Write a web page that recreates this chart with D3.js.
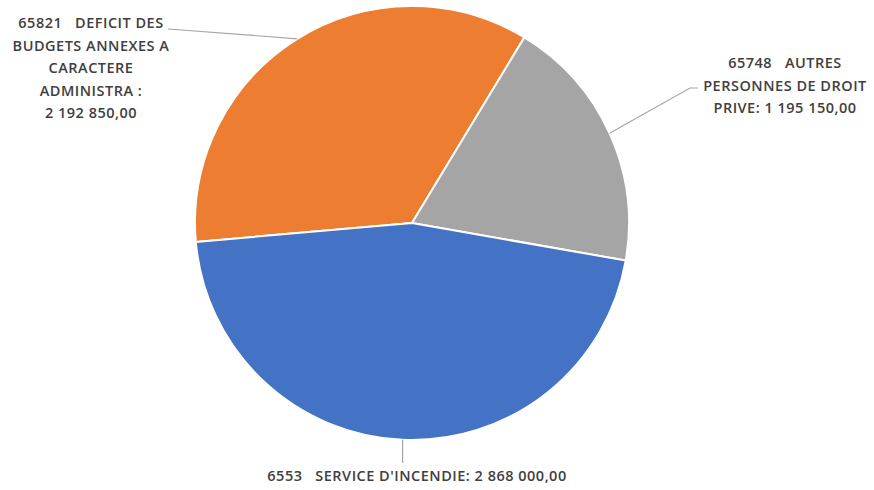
<!DOCTYPE html>
<html>
<head>
<meta charset="utf-8">
<script src="https://cdn.jsdelivr.net/npm/d3@7"></script>
<style>
  html, body { margin: 0; padding: 0; background: #fff; }
  svg { display: block; }
  .lbl { font-family: "Open Sans", Lato, sans-serif; font-weight: 600; fill: #404040; letter-spacing: 0.5px; }
</style>
</head>
<body>
<svg id="chart" width="874" height="490"></svg>
<script>
// Budget lines (compte + libellé) and their amounts
const codes = ["65821", "65748", "6553"];
const labelLines = [
  ["65821   DEFICIT DES", "BUDGETS ANNEXES A", "CARACTERE", "ADMINISTRA :", "2 192 850,00"],
  ["65748   AUTRES", "PERSONNES DE DROIT", "PRIVE: 1 195 150,00"],
  ["6553   SERVICE D'INCENDIE: 2 868 000,00"]
];
const amounts = [2192850, 1195150, 2868000];
const colors = ["#ED7D31", "#A5A5A5", "#4472C4"];

const svg = d3.select("#chart");
const cx = 412, cy = 223, r = 217;
const g = svg.append("g").attr("transform", `translate(${cx},${cy})`);

const data = codes.map((c, i) => ({ code: c, value: amounts[i], lines: labelLines[i], color: colors[i] }));

const pie = d3.pie().sort(null).value(d => d.value)
  .startAngle(-95 * Math.PI / 180)
  .endAngle(265 * Math.PI / 180);
const arcs = pie(data);
const arc = d3.arc().innerRadius(0).outerRadius(r);

g.selectAll("path.slice").data(arcs).join("path")
  .attr("class", "slice")
  .attr("d", arc)
  .attr("fill", d => d.data.color)
  .attr("stroke", "#fff")
  .attr("stroke-width", 2)
  .attr("stroke-linejoin", "round");

// Label placement (absolute anchor per slice) and leader line elbows
const labelPos = [
  { x: 91, y: 23, elbow: [[168, 29]] },
  { x: 785, y: 63, elbow: [[690, 88], [698, 88]] },
  { x: 417, y: 476, elbow: [[null, 463]] }
];
const lineH = 22.6;

arcs.forEach((a, i) => {
  const mid = (a.startAngle + a.endAngle) / 2;
  const px = cx + r * Math.sin(mid), py = cy - r * Math.cos(mid);
  const pts = [[px, py]].concat(labelPos[i].elbow.map(p => [p[0] === null ? px : p[0], p[1]]));
  svg.append("path")
    .attr("d", d3.line()(pts))
    .attr("fill", "none")
    .attr("stroke", "#A6A6A6")
    .attr("stroke-width", 1.2);

  const t = svg.append("text").attr("class", "lbl")
    .attr("text-anchor", "middle")
    .attr("font-size", 14.5);
  a.data.lines.forEach((ln, j) => {
    t.append("tspan")
      .attr("x", labelPos[i].x)
      .attr("y", labelPos[i].y + j * lineH)
      .attr("dy", "0.35em")
      .attr("xml:space", "preserve")
      .style("white-space", "pre")
      .text(ln);
  });
});
</script>
</body>
</html>
